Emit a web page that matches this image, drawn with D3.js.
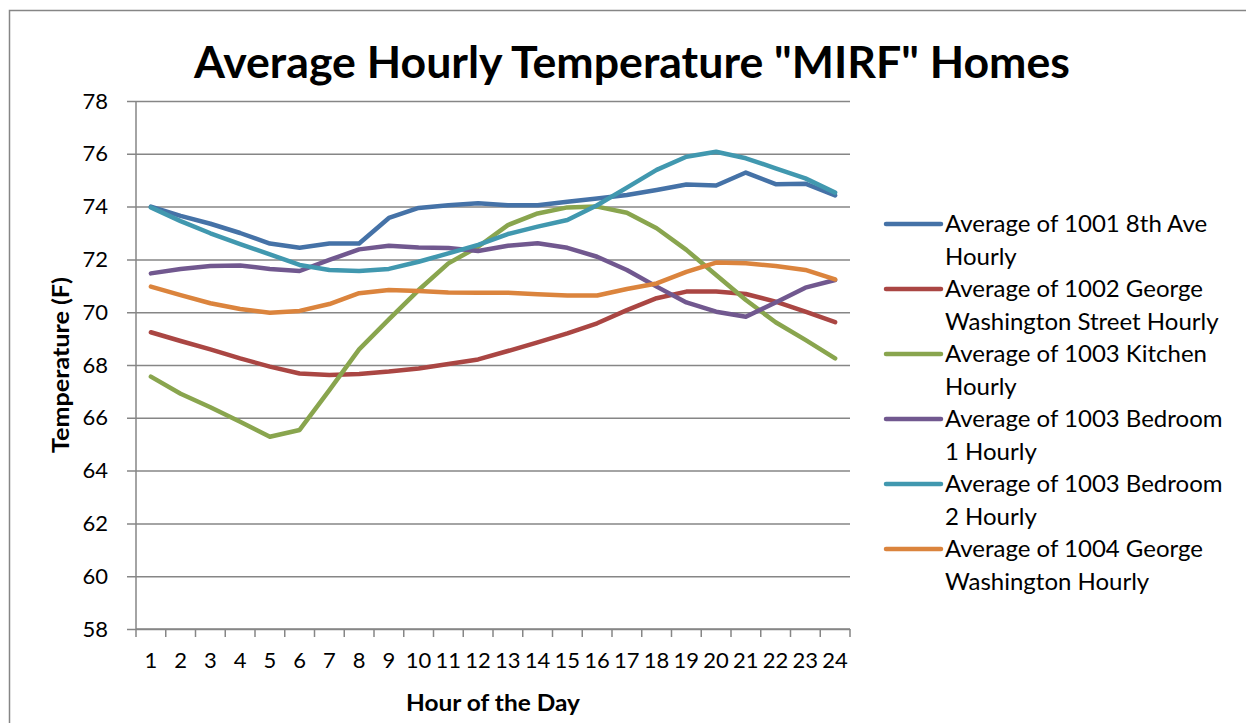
<!DOCTYPE html>
<html>
<head>
<meta charset="utf-8">
<script src="https://cdn.jsdelivr.net/npm/d3@7"></script>
<style>
  html, body { margin: 0; padding: 0; background: #fff; }
  svg { display: block; }
  text { font-family: Lato, "Open Sans", sans-serif; fill: #000; }
</style>
</head>
<body>
<svg id="chart" width="1246" height="723"></svg>
<script>
const hours = ["1","2","3","4","5","6","7","8","9","10","11","12","13","14","15","16","17","18","19","20","21","22","23","24"];
const yTicks = [58,60,62,64,66,68,70,72,74,76,78];

const seriesNames = [
  "Average of 1001 8th Ave Hourly",
  "Average of 1002 George Washington Street Hourly",
  "Average of 1003 Kitchen Hourly",
  "Average of 1003 Bedroom 1 Hourly",
  "Average of 1003 Bedroom 2 Hourly",
  "Average of 1004 George Washington Hourly"
];
const legendLines = [
  ["Average of 1001 8th Ave", "Hourly"],
  ["Average of 1002 George", "Washington Street Hourly"],
  ["Average of 1003 Kitchen", "Hourly"],
  ["Average of 1003 Bedroom", "1 Hourly"],
  ["Average of 1003 Bedroom", "2 Hourly"],
  ["Average of 1004 George", "Washington Hourly"]
];
const seriesColors = ["#4572A7","#AA4643","#89A54E","#71588F","#4198AF","#DB843D"];

const ave8th     = [74.0,73.65,73.35,73.0,72.6,72.44,72.6,72.6,73.57,73.95,74.05,74.13,74.05,74.05,74.18,74.31,74.44,74.63,74.84,74.8,75.29,74.85,74.87,74.42];
const georgeSt   = [69.24,68.91,68.59,68.25,67.94,67.68,67.62,67.66,67.75,67.87,68.04,68.21,68.53,68.86,69.2,69.58,70.08,70.53,70.78,70.78,70.69,70.4,70.02,69.62];
const kitchen    = [67.56,66.91,66.4,65.85,65.28,65.54,67.05,68.59,69.73,70.84,71.85,72.48,73.3,73.74,73.97,74.0,73.77,73.18,72.36,71.41,70.46,69.62,68.95,68.25];
const bedroom1   = [71.47,71.64,71.75,71.77,71.64,71.56,71.98,72.38,72.52,72.45,72.43,72.32,72.52,72.61,72.44,72.1,71.6,70.97,70.37,70.02,69.83,70.37,70.93,71.22];
const bedroom2   = [73.97,73.45,72.99,72.58,72.19,71.79,71.6,71.56,71.64,71.91,72.23,72.55,72.96,73.24,73.49,74.05,74.72,75.39,75.89,76.08,75.83,75.45,75.07,74.53];
const georgeWash = [70.97,70.65,70.34,70.12,69.98,70.05,70.31,70.72,70.84,70.8,70.75,70.74,70.74,70.68,70.63,70.63,70.88,71.09,71.53,71.88,71.85,71.75,71.6,71.24];

const seriesValues = [ave8th, georgeSt, kitchen, bedroom1, bedroom2, georgeWash];

const svg = d3.select("#chart");
const plotLeft = 136, plotRight = 850, plotTop = 101, plotBottom = 629;

const x = d3.scaleBand().domain(hours).range([plotLeft, plotRight]).paddingInner(0).paddingOuter(0);
const y = d3.scaleLinear().domain([58, 78]).range([plotBottom, plotTop]);

// chart border
svg.append("rect").attr("x", 9.5).attr("y", 10.5).attr("width", 1300).attr("height", 800)
  .attr("fill", "none").attr("stroke", "#868686").attr("stroke-width", 1.5);

// gridlines + y ticks
const yAxis = d3.axisLeft(y).tickValues(yTicks).tickSize(-(plotRight - plotLeft)).tickSizeOuter(0).tickPadding(28);
const gy = svg.append("g").attr("transform", `translate(${plotLeft},0)`).call(yAxis);
gy.select(".domain").remove();
gy.selectAll(".tick line").attr("stroke", "#868686").attr("stroke-width", 1.5).attr("x1", -9);
gy.selectAll(".tick text").style("font-size", "22px").style("font-family", "Lato, sans-serif").attr("fill", "#000");

// x axis
const xAxis = d3.axisBottom(x).tickSize(0).tickPadding(23);
const gx = svg.append("g").attr("transform", `translate(0,${plotBottom})`).call(xAxis);
gx.select(".domain").remove();
gx.selectAll(".tick text").style("font-size", "22px").style("font-family", "Lato, sans-serif").attr("fill", "#000");
const bounds = hours.map(h => x(h)).concat([plotRight]);
gx.selectAll("line.bound").data(bounds).enter().append("line").attr("class","bound")
  .attr("x1", d => d).attr("x2", d => d).attr("y1", 0).attr("y2", 8)
  .attr("stroke", "#868686").attr("stroke-width", 1.5);
svg.append("line").attr("x1", plotLeft).attr("x2", plotRight).attr("y1", plotBottom).attr("y2", plotBottom)
  .attr("stroke", "#868686").attr("stroke-width", 1.5);
svg.append("line").attr("x1", plotLeft).attr("x2", plotLeft).attr("y1", plotTop).attr("y2", plotBottom)
  .attr("stroke", "#868686").attr("stroke-width", 1.5);

// lines
const line = d3.line().x((d, i) => x(hours[i]) + x.bandwidth() / 2).y(d => y(d));
svg.append("g").selectAll("path").data(seriesValues).enter().append("path")
  .attr("d", line).attr("fill", "none")
  .attr("stroke", (d, i) => seriesColors[i]).attr("stroke-width", 4.5)
  .attr("stroke-linejoin", "round").attr("stroke-linecap", "round");

// title
svg.append("text").attr("x", 632).attr("y", 78).attr("text-anchor", "middle")
  .style("font-size", "44px").style("font-weight", "bold")
  .attr("textLength", 876).attr("lengthAdjust", "spacingAndGlyphs")
  .text('Average Hourly Temperature "MIRF" Homes');

// axis titles
svg.append("text").attr("x", 493).attr("y", 711).attr("text-anchor", "middle")
  .style("font-size", "22px").style("font-weight", "bold")
  .attr("textLength", 174).attr("lengthAdjust", "spacingAndGlyphs")
  .text("Hour of the Day");
svg.append("text").attr("transform", "translate(69,365) rotate(-90)").attr("text-anchor", "middle")
  .style("font-size", "22px").style("font-weight", "bold")
  .attr("textLength", 176).attr("lengthAdjust", "spacingAndGlyphs")
  .text("Temperature (F)");

// legend
const leg = svg.append("g");
const entries = leg.selectAll("g").data(seriesNames).enter().append("g")
  .attr("transform", (d, i) => `translate(886,${224 + i * 65})`);
entries.append("line").attr("x1", 0).attr("x2", 55).attr("y1", 0).attr("y2", 0)
  .attr("stroke", (d, i) => seriesColors[i]).attr("stroke-width", 4.5).attr("stroke-linecap", "round");
entries.each(function(d, i) {
  const t = d3.select(this).append("text").attr("x", 59).attr("y", 8).style("font-size", "24px");
  legendLines[i].forEach((ln, j) => {
    t.append("tspan").attr("x", 59).attr("dy", j === 0 ? 0 : 32.5).text(ln);
  });
});
</script>
</body>
</html>
